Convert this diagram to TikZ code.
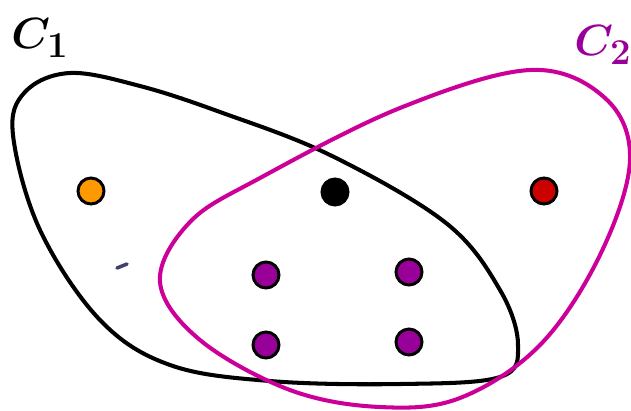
\documentclass[tikz,border=0pt]{standalone}
\usepackage{amsmath,amssymb}
\usepackage{bm}
\usepackage{xcolor}
\usepackage{tikz}
\definecolor{clusterone}{RGB}{0,0,0}
\definecolor{clustertwo}{RGB}{204,0,153}
\definecolor{labeltwo}{RGB}{153,0,153}
\definecolor{ptorange}{RGB}{255,153,0}
\definecolor{ptred}{RGB}{204,0,0}
\definecolor{ptpurple}{RGB}{153,0,153}
\definecolor{tickblue}{RGB}{64,64,112}

\begin{document}
\begin{tikzpicture}[
    x=0.02cm, y=-0.02cm,
    pt/.style={circle, draw=black, line width=1.7pt, inner sep=0pt,
               minimum size=0.52cm},
    cluster/.style={line width=2.3pt, line join=round},
    clabel/.style={font=\fontsize{30}{32}\selectfont, inner sep=0pt}
  ]
    \useasboundingbox (0,0) rectangle (631,410);

    % cluster C1
    \draw[cluster, clusterone] plot[smooth cycle, tension=0.6] coordinates {
      (13,135) (25,92) (70,73) (140,86) (220,112) (330,155) (446,223)
      (500,290) (518,345) (500,377) (400,384) (270,381)
      (170,365) (100,320) (40,230)};
    % cluster C2
    \draw[cluster, clustertwo] plot[smooth cycle, tension=0.6] coordinates {
      (160,282) (190,222) (260,178) (400,108) (530,70) (605,98)
      (630,160) (600,255) (540,345) (460,398) (380,407) (290,390)
      (200,340)};

    \node[clabel, clusterone] (c1) at (40,38) {$\bm{C}_{\mathbf{1}}$};
    \node[clabel, labeltwo]   (c2) at (603,45) {$\bm{C}_{\mathbf{2}}$};

    % points
    \node[pt, fill=ptorange] (po) at (91,191) {};
    \node[pt, fill=black]    (pb) at (335,192) {};
    \node[pt, fill=ptred]    (pr) at (544,191) {};
    \node[pt, fill=ptpurple] (p1) at (266,275) {};
    \node[pt, fill=ptpurple] (p2) at (409,272) {};
    \node[pt, fill=ptpurple] (p3) at (266,345) {};
    \node[pt, fill=ptpurple] (p4) at (409,342) {};

    \coordinate (ma) at (117,268);
    \coordinate (mb) at (127,264);
    \draw[tickblue, line width=2pt, line cap=round] (ma) -- (mb);
  \end{tikzpicture}
\end{document}
